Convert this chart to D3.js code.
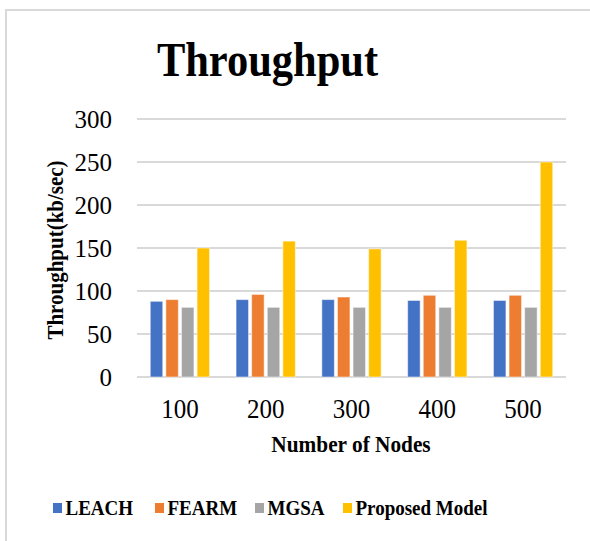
<!DOCTYPE html>
<html>
<head>
<meta charset="utf-8">
<script src="https://cdn.jsdelivr.net/npm/d3@7/dist/d3.min.js"></script>
<style>
  html, body { margin: 0; padding: 0; background: #fff; }
  svg { display: block; }
  text { font-family: "Liberation Serif", "Times New Roman", serif; fill: #000; }
</style>
</head>
<body>
<svg id="chart" width="590" height="541"></svg>
<script>
// Throughput per network size, one series per protocol
const categories = ["100", "200", "300", "400", "500"];
const seriesNames = ["LEACH", "FEARM", "MGSA", "Proposed Model"];
const leach = [88, 90, 90, 89, 89];
const fearm = [90, 96, 93, 95, 95];
const mgsa = [81, 81, 81, 81, 81];
const proposed = [150, 158, 149, 159, 250];
const yTicks = [0, 50, 100, 150, 200, 250, 300];
const colors = ["#4472C4", "#ED7D31", "#A5A5A5", "#FFC000"];

const seriesValues = [leach, fearm, mgsa, proposed];
const rows = categories.map((c, i) => ({
  cat: c,
  vals: seriesNames.map((s, j) => ({ name: s, v: seriesValues[j][i], color: colors[j] }))
}));

const svg = d3.select("#chart");

// places a text whose glyphs are drawn slightly taller than wide
function tallText(parent, x, y, str, opts) {
  const g = parent.append("g")
    .attr("transform", `translate(${x},${y})` + (opts.rotate ? ` rotate(${opts.rotate})` : ""));
  return g.append("text")
    .attr("transform", `scale(1,${opts.sy || 1})`)
    .attr("text-anchor", opts.anchor || "middle")
    .attr("font-size", opts.size)
    .attr("font-weight", opts.bold ? "bold" : "normal")
    .text(str);
}

// outer frame
svg.append("path")
  .attr("d", "M6,541 L6,10 L590,10")
  .attr("fill", "none").attr("stroke", "#d9d9d9").attr("stroke-width", 2);

const plot = { left: 137, right: 566, top: 119, bottom: 377 };

const x = d3.scaleBand().domain(categories).range([plot.left, plot.right]).paddingInner(0).paddingOuter(0);
const xs = d3.scaleBand().domain(seriesNames).range([0, x.bandwidth()]).paddingInner(0.2).paddingOuter(0.85);
const y = d3.scaleLinear().domain([0, 300]).range([plot.bottom, plot.top]);

// gridlines
svg.append("g").selectAll("line").data(yTicks).join("line")
  .attr("x1", plot.left).attr("x2", plot.right)
  .attr("y1", d => y(d)).attr("y2", d => y(d))
  .attr("stroke", "#d9d9d9").attr("stroke-width", 2);

// y tick labels
const yLab = svg.append("g");
yTicks.forEach(t => tallText(yLab, 112, y(t) + 9, String(t), { size: 25, sy: 1.04, anchor: "end" }));

// bars
const groups = svg.append("g").selectAll("g").data(rows).join("g")
  .attr("transform", d => `translate(${x(d.cat)},0)`);
groups.selectAll("rect").data(d => d.vals).join("rect")
  .attr("x", d => xs(d.name))
  .attr("width", xs.bandwidth())
  .attr("y", d => y(d.v))
  .attr("height", d => y(0) - y(d.v))
  .attr("fill", d => d.color)
  .attr("stroke", "#ffffff").attr("stroke-opacity", 0.5).attr("stroke-width", 1);

// x tick labels
const xLab = svg.append("g");
categories.forEach(c => tallText(xLab, x(c) + x.bandwidth() / 2, 418, c, { size: 25, sy: 1.06 }));

// title
tallText(svg, 267.5, 75.5, "Throughput", { size: 42.5, sy: 1.15, bold: true });

// axis titles
tallText(svg, 351, 452, "Number of Nodes", { size: 21.3, sy: 1.13, bold: true });
tallText(svg, 63, 250, "Throughput(kb/sec)", { size: 21, sy: 1.13, bold: true, rotate: -90 });

// legend
const legendX = [53, 155, 255, 343];
const legend = svg.append("g").selectAll("g").data(seriesNames).join("g")
  .attr("transform", (d, i) => `translate(${legendX[i]},515)`);
legend.append("rect").attr("x", 0).attr("y", -12).attr("width", 9).attr("height", 10)
  .attr("fill", (d, i) => colors[i]);
legend.each(function (d) {
  tallText(d3.select(this), 12.5, 0, d, { size: 19, sy: 1.05, bold: true, anchor: "start" });
});
</script>
</body>
</html>
